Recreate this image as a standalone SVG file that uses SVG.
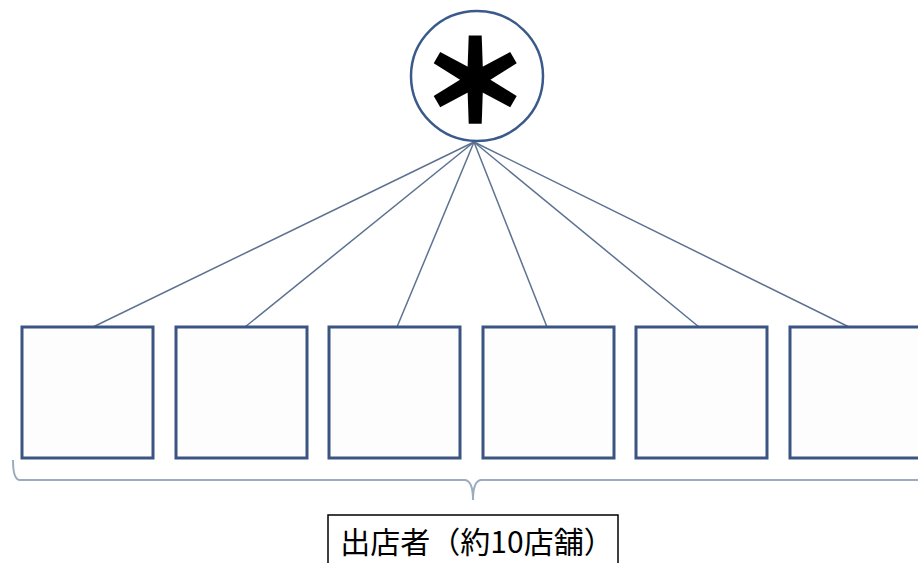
<svg xmlns="http://www.w3.org/2000/svg" width="918" height="563" viewBox="0 0 918 563">
<style>
.box{fill:#fdfdfd;stroke:#3a5582;stroke-width:3}
.conn line{stroke:#5c7291;stroke-width:1.5}
.brace{fill:none;stroke:#9aacbd;stroke-width:2}
.lbl{font-family:"Noto Sans CJK JP","Noto Sans",sans-serif}
</style>
<rect width="918" height="563" fill="#ffffff"/>
<g class="conn" id="connectors">
<line x1="474" y1="142" x2="93" y2="327"/>
<line x1="474" y1="142" x2="245" y2="327"/>
<line x1="474" y1="142" x2="397" y2="327"/>
<line x1="474" y1="142" x2="547" y2="327"/>
<line x1="474" y1="142" x2="699" y2="327"/>
<line x1="474" y1="142" x2="849" y2="327"/>
</g>
<g id="hub">
<ellipse cx="477" cy="76" rx="66" ry="65" fill="#ffffff" stroke="#3a5a8a" stroke-width="2.5"/>
<text x="475" y="74" text-anchor="middle" dominant-baseline="central" class="lbl" font-size="110" font-weight="900" fill="#000" stroke="#000" stroke-width="3">＊</text>
</g>
<g id="box1"><rect class="box" x="22" y="327" width="131" height="131"/></g>
<g id="box2"><rect class="box" x="176" y="327" width="131" height="131"/></g>
<g id="box3"><rect class="box" x="329" y="327" width="131" height="131"/></g>
<g id="box4"><rect class="box" x="483" y="327" width="131" height="131"/></g>
<g id="box5"><rect class="box" x="636" y="327" width="131" height="131"/></g>
<g id="box6"><rect class="box" x="790" y="327" width="131" height="131"/></g>
<g id="brace">
<path class="brace" d="M13 460 Q13 480 20 480 L465 480 Q473 481 473 500 Q473 481 481 480 L920 480"/>
</g>
<g id="label">
<rect x="328" y="515" width="290" height="60" fill="#ffffff" stroke="#000" stroke-width="1.5"/>
<text x="477" y="553" text-anchor="middle" class="lbl" font-size="30" fill="#000">出店者（約10店舗）</text>
</g>
</svg>
